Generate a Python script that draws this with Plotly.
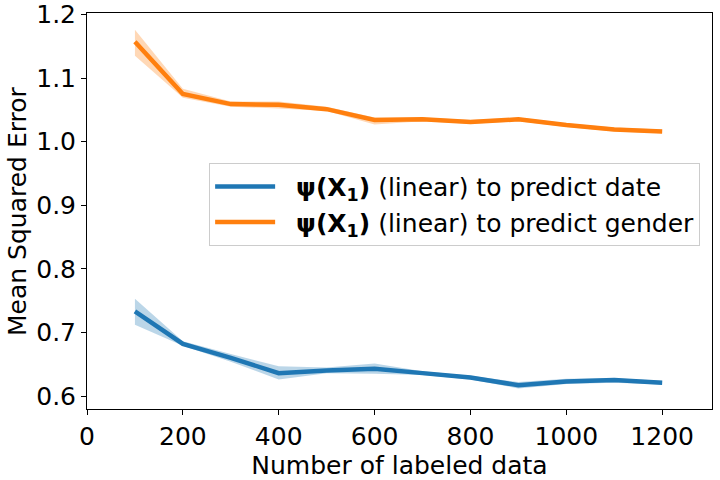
import plotly.graph_objects as go

x_vals = [100, 200, 300, 400, 500, 600, 700, 800, 900, 1000, 1100, 1200]

date_mean = [0.733, 0.682, 0.660, 0.636, 0.640, 0.643, 0.636, 0.629, 0.617, 0.623, 0.625, 0.621]
date_lo = [0.712, 0.679, 0.654, 0.626, 0.636, 0.635, 0.633, 0.626, 0.612, 0.619, 0.621, 0.618]
date_hi = [0.753, 0.686, 0.666, 0.647, 0.645, 0.651, 0.639, 0.632, 0.622, 0.627, 0.628, 0.624]

gender_mean = [1.157, 1.075, 1.059, 1.058, 1.051, 1.034, 1.035, 1.031, 1.035, 1.026, 1.019, 1.016]
gender_lo = [1.135, 1.069, 1.055, 1.052, 1.048, 1.027, 1.032, 1.028, 1.032, 1.023, 1.016, 1.013]
gender_hi = [1.176, 1.083, 1.063, 1.063, 1.055, 1.038, 1.038, 1.034, 1.038, 1.029, 1.022, 1.019]

series_names = [
    "\u00a0\u00a0<b>\u03c8(X<sub>1</sub>)</b> (linear) to predict date",
    "\u00a0\u00a0<b>\u03c8(X<sub>1</sub>)</b> (linear) to predict gender",
]
x_ticks = [0, 200, 400, 600, 800, 1000, 1200]
y_ticks = [0.6, 0.7, 0.8, 0.9, 1.0, 1.1, 1.2]

colors = ["#1f77b4", "#ff7f0e"]
fills = ["rgba(31,119,180,0.3)", "rgba(255,127,14,0.3)"]

fig = go.Figure()
for mean, lo, hi, name, c, f in [
    (date_mean, date_lo, date_hi, series_names[0], colors[0], fills[0]),
    (gender_mean, gender_lo, gender_hi, series_names[1], colors[1], fills[1]),
]:
    fig.add_trace(go.Scatter(x=x_vals + x_vals[::-1], y=hi + lo[::-1], fill="toself",
                             fillcolor=f, line=dict(width=0), mode="lines",
                             showlegend=False, hoverinfo="skip"))
    fig.add_trace(go.Scatter(x=x_vals, y=mean, mode="lines", name=name,
                             line=dict(color=c, width=4.5)))

font = "DejaVu Sans"
FS = 25
axis_common = dict(showline=True, linecolor="black", linewidth=1, mirror=True,
                   ticks="outside", ticklen=5, tickwidth=1, tickcolor="black",
                   showgrid=False, zeroline=False, automargin=False,
                   ticklabeloverflow="allow",
                   tickfont=dict(family=font, size=FS, color="black"))

fig.update_layout(
    width=720, height=480,
    margin=dict(l=87, r=8, t=13, b=71),
    plot_bgcolor="white", paper_bgcolor="white",
    font=dict(family=font, size=FS, color="black"),
    xaxis=dict(range=[0, 1304], tickvals=x_ticks, ticktext=[str(t) for t in x_ticks],
               title=dict(text="Number of labeled data", font=dict(family=font, size=FS), standoff=4),
               **axis_common),
    yaxis=dict(range=[0.5796, 1.2022], tickvals=y_ticks, ticktext=[f"{t:.1f}" for t in y_ticks],
               **axis_common),
    annotations=[dict(text="Mean Squared Error", xref="paper", yref="paper",
                      x=0, y=0.5, xanchor="center", yanchor="middle", xshift=-70,
                      textangle=-90, showarrow=False,
                      font=dict(family=font, size=FS, color="black"))],
    legend=dict(x=0.981, y=0.622, xanchor="right", yanchor="top",
                bgcolor="rgba(255,255,255,0.8)", bordercolor="#cccccc", borderwidth=1,
                font=dict(family=font, size=FS, color="black"), itemwidth=60,
                tracegroupgap=0),
)

fig.write_html("out.html", config={"displayModeBar": False},
               post_script="document.body.style.margin='0';")
